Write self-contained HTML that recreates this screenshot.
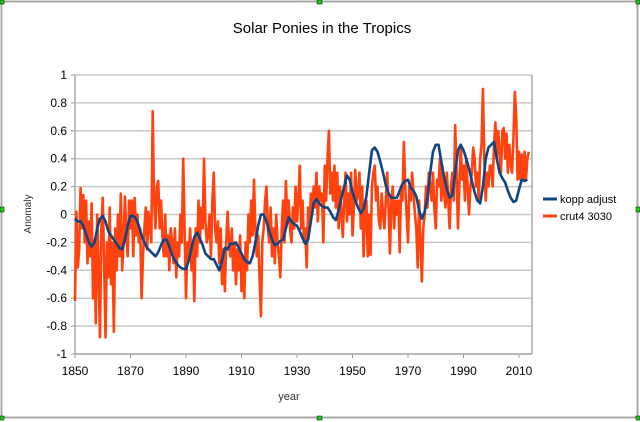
<!DOCTYPE html>
<html><head><meta charset="utf-8"><style>
body{margin:0;background:#fff}
svg{display:block;font-family:"Liberation Sans",sans-serif}
</style></head><body>
<svg id="chart" width="640" height="422" viewBox="0 0 640 422">
<rect x="1.5" y="1.5" width="636" height="416" fill="#fff" stroke="#a8a8a8" stroke-width="2"/>
<text x="322" y="33" font-size="15" text-anchor="middle" fill="#000">Solar Ponies in the Tropics</text>
<text transform="translate(31,214) rotate(-90)" font-size="10" text-anchor="middle" fill="#333">Anomaly</text>
<text x="289" y="400" font-size="11" text-anchor="middle" fill="#333">year</text>
<g id="grid"></g>
<g id="axes"></g>
<g id="series"></g>
<g>
<line x1="543" y1="199" x2="557" y2="199" stroke="#0f4584" stroke-width="3"/>
<text x="560" y="203" font-size="11" fill="#000">kopp adjust</text>
<line x1="543" y1="216" x2="557" y2="216" stroke="#ff420e" stroke-width="3"/>
<text x="560" y="220" font-size="11" fill="#000">crut4 3030</text>
</g>
<g fill="#1fd01f" stroke="#000" stroke-width="0.5">
<rect x="0" y="0" width="4" height="4"/><rect x="317" y="0" width="5" height="4"/><rect x="636" y="0" width="4" height="4"/>
<rect x="0" y="207" width="4" height="5"/><rect x="636" y="207" width="4" height="5"/>
<rect x="0" y="416" width="4" height="4"/><rect x="317" y="416" width="5" height="4"/><rect x="636" y="416" width="4" height="4"/>
</g>
</svg>
<script>
const xTicks = [1850,1870,1890,1910,1930,1950,1970,1990,2010];
const yTicks = [-1,-0.8,-0.6,-0.4,-0.2,0,0.2,0.4,0.6,0.8,1];
const yTickLabels = ["-1","-0.8","-0.6","-0.4","-0.2","0","0.2","0.4","0.6","0.8","1"];
const koppStart = 1850;
const koppValues = [-0.03,-0.05,-0.05,-0.08,-0.14,-0.2,-0.23,-0.2,-0.1,-0.03,
-0.01,-0.05,-0.12,-0.15,-0.18,-0.21,-0.24,-0.25,-0.18,-0.08,
-0.01,-0.01,-0.03,-0.08,-0.15,-0.2,-0.24,-0.26,-0.28,-0.3,
-0.27,-0.22,-0.18,-0.18,-0.23,-0.29,-0.33,-0.36,-0.38,-0.39,
-0.39,-0.33,-0.24,-0.16,-0.13,-0.17,-0.22,-0.28,-0.3,-0.32,
-0.32,-0.36,-0.4,-0.33,-0.24,-0.25,-0.21,-0.21,-0.2,-0.24,
-0.28,-0.32,-0.34,-0.35,-0.3,-0.2,-0.08,0,0,-0.05,
-0.12,-0.18,-0.22,-0.21,-0.19,-0.18,-0.1,-0.02,-0.05,-0.07,
-0.08,-0.12,-0.17,-0.21,-0.18,-0.05,0.08,0.11,0.08,0.06,
0.05,0.05,0.02,-0.02,-0.04,0.03,0.12,0.2,0.28,0.25,
0.16,0.1,0.05,0.01,0.04,0.13,0.3,0.46,0.48,0.45,
0.38,0.3,0.21,0.15,0.12,0.12,0.12,0.17,0.22,0.24,
0.25,0.19,0.17,0.13,0.03,-0.03,0.02,0.12,0.3,0.45,
0.5,0.5,0.38,0.27,0.18,0.12,0.14,0.3,0.46,0.5,
0.46,0.4,0.33,0.24,0.16,0.1,0.08,0.2,0.4,0.48,
0.5,0.52,0.4,0.3,0.26,0.23,0.17,0.12,0.09,0.1,
0.18,0.25,0.24,0.25];
const crutStart = 1850;
const crutStep = 0.5;
const crutValues = [-0.62,0.02,-0.38,-0.25,0.19,-0.1,0.14,-0.2,0.1,-0.35,-0.05,-0.3,0.08,-0.6,-0.2,-0.78,0.0,-0.4,-0.88,-0.1,
0.12,-0.35,-0.88,-0.2,-0.45,0.05,-0.5,-0.2,-0.84,-0.1,-0.4,0.0,-0.3,0.15,-0.4,-0.2,0.13,-0.15,-0.3,0.1,
-0.1,0.1,-0.3,0.12,-0.15,0.0,-0.2,-0.1,-0.6,-0.3,-0.1,0.05,-0.25,0.02,-0.1,-0.2,0.74,0.1,-0.1,0.2,
0.24,-0.1,0.1,-0.15,-0.3,0.0,-0.3,-0.15,-0.4,-0.1,-0.2,-0.35,-0.1,-0.45,-0.2,-0.3,0.0,-0.2,0.4,-0.1,
-0.6,-0.2,-0.3,-0.1,-0.4,-0.2,-0.62,-0.1,-0.3,0.1,-0.2,0.05,-0.1,0.4,-0.05,-0.2,-0.15,0.0,-0.3,0.1,
0.3,-0.1,-0.2,-0.05,-0.35,-0.1,-0.5,-0.25,-0.55,-0.2,0.02,-0.2,-0.3,-0.1,-0.4,-0.2,-0.5,-0.25,-0.4,-0.15,
-0.55,-0.3,-0.6,-0.2,-0.4,0.0,-0.2,0.1,-0.15,0.25,-0.1,-0.3,-0.15,-0.45,-0.73,-0.2,-0.1,0.1,0.2,-0.1,
-0.2,0.05,-0.3,-0.1,-0.35,0.0,-0.2,-0.3,-0.45,-0.1,0.1,-0.2,0.24,-0.05,0.1,-0.1,-0.2,0.05,-0.1,0.2,
-0.05,0.1,0.35,-0.1,0.1,-0.2,-0.1,-0.38,0.05,-0.1,0.15,0.0,0.2,0.05,0.3,-0.05,0.2,0.1,0.15,-0.2,
0.35,0.1,0.4,0.6,0.15,0.3,0.1,0.35,0.05,0.3,-0.1,0.2,0.0,-0.16,0.1,0.3,-0.05,0.15,0.0,0.3,
-0.15,0.05,0.32,0.1,0.15,0.3,-0.1,0.2,-0.3,0.0,0.1,-0.3,0.0,-0.29,0.2,0.3,0.35,0.1,0.2,-0.05,
-0.1,0.15,0.0,-0.1,0.1,0.3,0.05,-0.28,0.1,0.2,-0.1,0.1,0.0,0.1,-0.27,0.2,0.1,0.52,0.2,0.0,
-0.2,0.2,0.1,0.3,0.15,0.0,-0.1,-0.38,0.1,-0.2,-0.48,-0.1,0.0,0.2,0.05,0.3,0.2,0.1,0.3,0.05,
-0.1,0.25,0.2,0.4,0.1,0.3,0.15,0.05,0.3,0.1,-0.1,0.2,0.3,0.1,0.64,0.3,-0.1,0.2,0.5,0.25,
0.35,0.1,0.4,0.2,0.0,0.2,0.3,0.48,0.4,0.2,0.3,0.1,0.4,0.5,0.9,0.4,0.1,0.3,0.2,0.35,
0.35,0.2,0.5,0.66,0.4,0.6,0.45,0.3,0.6,0.62,0.4,0.58,0.3,0.5,0.35,0.3,0.55,0.88,0.7,0.25,
0.45,0.25,0.43,0.25,0.45,0.25,0.4,0.45];

const NS="http://www.w3.org/2000/svg";
const X0=75, X1=519, Y0=354, Y1=75;
function xs(yr){return X0+(yr-1850)*(X1-X0)/160;}
function ys(v){return Y0-(v+1)*(Y0-Y1)/2;}
function mk(tag,attrs,parent){const e=document.createElementNS(NS,tag);for(const k in attrs)e.setAttribute(k,attrs[k]);parent.appendChild(e);return e;}
const grid=document.getElementById('grid'), axes=document.getElementById('axes'), series=document.getElementById('series');
const xRight=532;
yTicks.forEach((t,i)=>{
  const g=mk('line',{x1:X0,x2:xRight,y1:ys(t),y2:ys(t),stroke:'#c8c8c8','stroke-width':1.5},grid);
  
  
  const tk=mk('line',{x1:X0-4,x2:X0,y1:ys(t),y2:ys(t),stroke:'#999'},axes);
  
  
  const l=mk('text',{x:X0-8,y:ys(t)+4,'font-size':12,'text-anchor':'end',fill:'#000'},axes);
  l.textContent=yTickLabels[i];
  
  
});
xTicks.forEach(t=>{
  const tk=mk('line',{x1:xs(t),x2:xs(t),y1:Y0,y2:Y0+4,stroke:'#999'},axes);
  
  
  const l=mk('text',{x:xs(t),y:Y0+21,'font-size':12,'text-anchor':'middle',fill:'#000'},axes);
  l.textContent=t;
  
  
});
const ax1=mk('line',{x1:X0,x2:X0,y1:Y1,y2:Y0,stroke:'#aaa','stroke-width':1.5},axes);


const ax2=mk('line',{x1:X0,x2:xRight,y1:Y0,y2:Y0,stroke:'#aaa','stroke-width':1.5},axes);


const ax3=mk('line',{x1:xRight,x2:xRight,y1:Y1,y2:Y0,stroke:'#aaa','stroke-width':1.5},axes);


let d='';
crutValues.forEach((v,i)=>{d+=(i?'L':'M')+xs(crutStart+i*crutStep).toFixed(2)+','+ys(v).toFixed(2);});
const p1=mk('path',{d:d,fill:'none',stroke:'#ff420e','stroke-width':2.6,'stroke-linejoin':'round'},series);


let d2='';
koppValues.forEach((v,i)=>{d2+=(i?'L':'M')+xs(koppStart+i).toFixed(2)+','+ys(v).toFixed(2);});
const p2=mk('path',{d:d2,fill:'none',stroke:'#0f4584','stroke-width':2.6,'stroke-linejoin':'round'},series);


</script>
</body></html>
